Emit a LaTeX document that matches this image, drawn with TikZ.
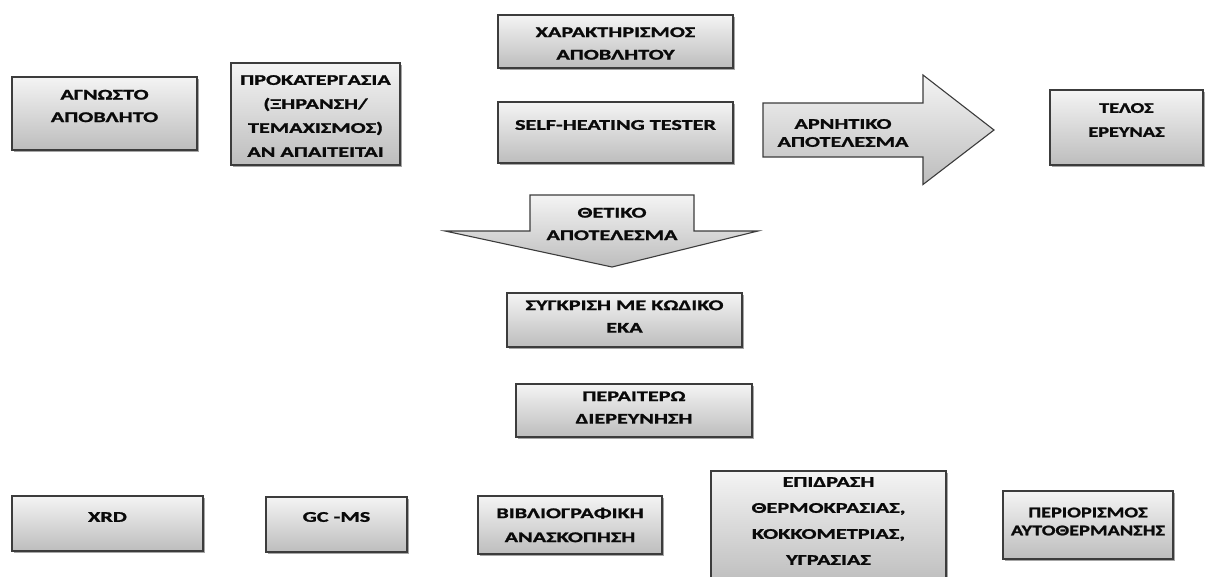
\documentclass[tikz,border=0pt]{standalone}
\usepackage{fontspec}
\setmainfont{Carlito}
\newfontfamily\boxfont{Carlito}[FakeStretch=1.5,FakeBold=1.4]
\newfontfamily\midfont{Carlito}[FakeStretch=1.37,FakeBold=1.4]
\usepackage{tikz}
\usetikzlibrary{positioning,shadows}
\definecolor{boxtop}{HTML}{F4F4F4}
\definecolor{boxbot}{HTML}{BDBDBD}
\definecolor{boxline}{HTML}{3C3C3C}
\definecolor{ink}{HTML}{0A0A0A}
\tikzset{
  box/.style={draw=boxline, line width=1.1pt, top color=boxtop, bottom color=boxbot, inner sep=0pt,
    drop shadow={shadow xshift=1.6pt, shadow yshift=-1.6pt, opacity=0.35, fill=black}},
  txt/.style={font=\boxfont\fontsize{14.8}{22.5}\selectfont\bfseries, text=ink, align=center, inner sep=0pt},
  txtm/.style={txt, font=\midfont\fontsize{14.8}{22.5}\selectfont\bfseries},
  bigarrow/.style={draw=boxline, line width=1.1pt, top color=boxtop, bottom color=boxbot},
}
\begin{document}
\begin{tikzpicture}[x=1pt,y=-1pt]
  \clip (0,0) rectangle (1208,576);
  % top row
  \node[box,minimum width=185pt,minimum height=73pt,label={[txt,yshift=7.5pt]center:{ΑΓΝΩΣΤΟ\\ΑΠΟΒΛΗΤΟ}}](agnosto) at (104.5,113.5){};
  \node[box,minimum width=169pt,minimum height=102pt,label={[txt,yshift=-2pt]center:{ΠΡΟΚΑΤΕΡΓΑΣΙΑ\\[1.5pt](ΞΗΡΑΝΣΗ/\\[1.5pt]ΤΕΜΑΧΙΣΜΟΣ)\\[1.5pt]ΑΝ ΑΠΑΙΤΕΙΤΑΙ}}](prokat) at (315.5,114){};
  \node[box,minimum width=235pt,minimum height=53pt,label={[txt,yshift=-2pt]center:{ΧΑΡΑΚΤΗΡΙΣΜΟΣ\\ΑΠΟΒΛΗΤΟΥ}}](charakt) at (615.5,41.5){};
  \node[box,minimum width=235pt,minimum height=61pt,label={[txt,yshift=7.5pt]center:{SELF-HEATING TESTER}}](tester) at (615.5,132.5){};
  \node[box,minimum width=153pt,minimum height=75pt,label={[txtm,yshift=7.5pt]center:{ΤΕΛΟΣ\\[1.5pt]ΕΡΕΥΝΑΣ}}](telos) at (1126.5,127.5){};
  % result arrows
  \draw[bigarrow](763,103)--(923,103)--(923,75)--(994,130)--(923,184.5)--(923,157)--(763,157)--cycle;
  \node[txt](neg) at (843,133){ΑΡΝΗΤΙΚΟ\\[-4.5pt]ΑΠΟΤΕΛΕΣΜΑ};
  \draw[bigarrow](530,195)--(694,195)--(694,231)--(758,231)--(612,267)--(445,231)--(530,231)--cycle;
  \node[txt](pos) at (612,224){ΘΕΤΙΚΟ\\ΑΠΟΤΕΛΕΣΜΑ};
  % middle column
  \node[box,minimum width=235pt,minimum height=54pt,label={[txt,yshift=3.5pt]center:{ΣΥΓΚΡΙΣΗ ΜΕ ΚΩΔΙΚΟ\\ΕΚΑ}}](sygkrisi) at (624.5,320){};
  \node[box,minimum width=236pt,minimum height=53pt,label={[txt,yshift=3pt]center:{ΠΕΡΑΙΤΕΡΩ\\ΔΙΕΡΕΥΝΗΣΗ}}](perait) at (634,410.5){};
  % bottom row
  \node[box,minimum width=191pt,minimum height=55pt,label={[txt,yshift=6.5pt]center:{XRD}}](xrd) at (107.5,523.5){};
  \node[box,minimum width=141pt,minimum height=55pt,label={[txt,yshift=7.5pt]center:{GC -MS}}](gcms) at (336.5,524.5){};
  \node[box,minimum width=184pt,minimum height=58pt,label={[txt]center:{ΒΙΒΛΙΟΓΡΑΦΙΚΗ\\[1.5pt]ΑΝΑΣΚΟΠΗΣΗ}}](biblio) at (570,525){};
  \node[box,minimum width=235pt,minimum height=114pt,label={[txt,yshift=7pt]center:{ΕΠΙΔΡΑΣΗ\\[3.5pt]ΘΕΡΜΟΚΡΑΣΙΑΣ,\\[3.5pt]ΚΟΚΚΟΜΕΤΡΙΑΣ,\\[3.5pt]ΥΓΡΑΣΙΑΣ}}](epidrasi) at (828.5,528){};
  \node[box,minimum width=170pt,minimum height=68pt,label={[txtm,yshift=3.5pt]center:{ΠΕΡΙΟΡΙΣΜΟΣ\\[-4.5pt]ΑΥΤΟΘΕΡΜΑΝΣΗΣ}}](perior) at (1088,525){};
\end{tikzpicture}
\end{document}
